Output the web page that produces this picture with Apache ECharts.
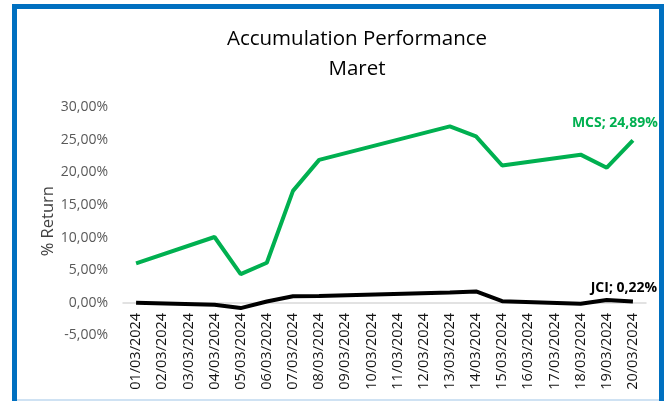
<!DOCTYPE html>
<html>
<head>
<meta charset="utf-8">
<script src="https://cdn.jsdelivr.net/npm/echarts@6/dist/echarts.min.js"></script>
<style>
  html, body { margin: 0; padding: 0; background: #fff; }
  #chart { width: 670px; height: 401px; }
</style>
</head>
<body>
<div id="chart"></div>
<script>
// tanggal (sumbu x)
var dates = ["01/03/2024", "02/03/2024", "03/03/2024", "04/03/2024", "05/03/2024",
  "06/03/2024", "07/03/2024", "08/03/2024", "09/03/2024", "10/03/2024",
  "11/03/2024", "12/03/2024", "13/03/2024", "14/03/2024", "15/03/2024",
  "16/03/2024", "17/03/2024", "18/03/2024", "19/03/2024", "20/03/2024"];
// return akumulasi (%), null = hari libur bursa
var mcs = [6.04, null, null, 10.09, 4.40, 6.14, 17.15, 21.90, null, null,
  null, null, 27.03, 25.50, 21.04, null, null, 22.70, 20.70, 24.89];
var jci = [0.00, null, null, -0.30, -0.80, 0.20, 1.00, 1.05, null, null,
  null, null, 1.60, 1.75, 0.25, null, null, -0.15, 0.45, 0.22];
var yTicks = [-5, 0, 5, 10, 15, 20, 25, 30];

var gridTop = 107, gridHeight = 228.5;

function pct(v) {
  return v.toFixed(2).replace(".", ",") + "%";
}

// label hanya di titik terakhir
function withLastLabel(arr, name, color, offset) {
  return arr.map(function (v, i) {
    if (i !== arr.length - 1) return v;
    return {
      value: v,
      label: {
        show: true,
        position: "top",
        distance: 0,
        offset: offset,
        color: color,
        fontWeight: "bold",
        fontSize: 14,
        fontFamily: "Open Sans",
        formatter: function () { return name + "; " + pct(v); }
      }
    };
  });
}

// sumbu x (dengan label) digeser ke posisi 0%
var yMin = yTicks[0], yMax = yTicks[yTicks.length - 1];
var zeroShift = gridHeight * (0 - yMin) / (yMax - yMin);

var myChart = echarts.init(document.getElementById("chart"));
var option = {
  backgroundColor: "#fff",
  animation: false,
  title: {
    text: "Accumulation Performance\nMaret",
    left: 352,
    textAlign: "center",
    top: 19,
    textStyle: {
      fontFamily: "Open Sans",
      fontWeight: "normal",
      fontSize: 20.5,
      lineHeight: 30,
      color: "#000"
    }
  },
  graphic: [
    {
      type: "rect",
      shape: { x: 14.5, y: 6.5, width: 647, height: 420 },
      style: { fill: "none", stroke: "#0070C0", lineWidth: 5 },
      z: 100
    },
    {
      type: "rect",
      shape: { x: 17, y: 399, width: 642, height: 2 },
      style: { fill: "#cfe2f3" },
      z: 100
    }
  ],
  grid: {
    left: 123,
    top: gridTop,
    width: 523,
    height: gridHeight,
    containLabel: false,
    outerBoundsMode: "none"
  },
  xAxis: {
    type: "category",
    data: dates,
    boundaryGap: true,
    offset: -zeroShift,
    axisLine: { show: true, onZero: false, lineStyle: { color: "#d9d9d9", width: 1.5 } },
    axisTick: { show: false },
    axisLabel: {
      rotate: 90,
      interval: 0,
      margin: 10,
      color: "#111",
      fontSize: 14.5,
      fontFamily: "Open Sans"
    },
    splitLine: { show: false }
  },
  yAxis: {
    type: "value",
    min: yMin,
    max: yMax,
    interval: 5,
    name: "% Return",
    nameLocation: "middle",
    nameGap: 66,
    nameMoveOverlap: false,
    nameTextStyle: { color: "#404040", fontSize: 16.5, fontFamily: "Open Sans" },
    axisLine: { show: false },
    axisTick: { show: false },
    splitLine: { show: false },
    axisLabel: {
      margin: 15,
      color: "#595959",
      fontSize: 14,
      fontFamily: "Open Sans",
      formatter: function (v) { return pct(v); }
    }
  },
  series: [
    {
      name: "MCS",
      type: "line",
      data: withLastLabel(mcs, "MCS", "#00B050", [-18, -10]),
      connectNulls: true,
      showSymbol: true,
      showAllSymbol: true,
      symbol: "circle",
      symbolSize: 0.1,
      lineStyle: { color: "#00B050", width: 4 },
      itemStyle: { color: "#00B050" }
    },
    {
      name: "JCI",
      type: "line",
      data: withLastLabel(jci, "JCI", "#000", [-9, -6]),
      connectNulls: true,
      showSymbol: true,
      showAllSymbol: true,
      symbol: "circle",
      symbolSize: 0.1,
      lineStyle: { color: "#000", width: 4 },
      itemStyle: { color: "#000" }
    }
  ]
};
myChart.setOption(option);
window.addEventListener("resize", function () { myChart.resize(); });
</script>
</body>
</html>
